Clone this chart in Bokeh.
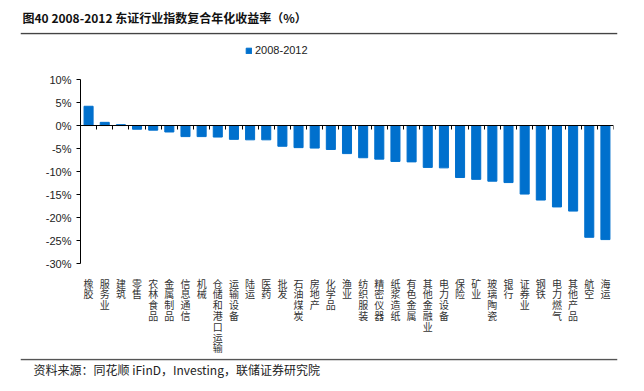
from bokeh.plotting import figure
from bokeh.models import FixedTicker, LinearAxis, Legend, LegendItem, Range1d, BoxAnnotation, Label
from bokeh.layouts import column
from bokeh.embed import file_html
from bokeh.resources import INLINE

categories = ["橡胶", "服务业", "建筑", "零售", "农林食品", "金属制品", "信息通信", "机械",
              "仓储和港口运输", "运输设备", "陆运", "医药", "批发", "石油煤炭", "房地产", "化学品",
              "渔业", "纺织服装", "精密仪器", "纸浆造纸", "有色金属", "其他金融业", "电力设备",
              "保险", "矿业", "玻璃陶瓷", "银行", "证券业", "钢铁", "电力燃气", "其他产品",
              "航空", "海运"]
values = [4.2, 0.7, 0.2, -0.8, -1.0, -1.4, -2.4, -2.4, -2.5, -3.0, -3.1, -3.1, -4.5, -4.8,
          -4.9, -5.2, -6.1, -7.0, -7.3, -7.8, -7.9, -9.1, -9.2, -11.3, -11.7, -12.1, -12.4,
          -14.9, -16.2, -17.7, -18.6, -24.3, -24.8]
series_name = "2008-2012"
y_ticks = [-30, -25, -20, -15, -10, -5, 0, 5, 10]
y_labels = ["-30%", "-25%", "-20%", "-15%", "-10%", "-5%", "0%", "5%", "10%"]
title_text = "图40 2008-2012 东证行业指数复合年化收益率（%）"
source_text = "资料来源：同花顺 iFinD，Investing，联储证券研究院"

n = len(categories)
idx = list(range(n))


def strip(h):
    f = figure(output_backend="svg", toolbar_location=None, title=None,
               frame_width=597, frame_height=h, frame_align=False,
               x_range=Range1d(0, 597), y_range=Range1d(0, h),
               x_axis_location=None, y_axis_location=None,
               min_border_left=20, min_border_right=27, min_border_top=0, min_border_bottom=0)
    f.grid.visible = False
    f.outline_line_color = None
    return f


# title strip (page y 0..30)
tf = strip(30)
tf.add_layout(Label(x=2, y=13, text=title_text, text_baseline="middle",
                    text_font="Noto Sans CJK SC", text_font_style="bold",
                    text_font_size="12px", text_color="#111111"))

# rule strip (page y 30..40) with the rule at its top
rf = strip(10)
rf.add_layout(BoxAnnotation(bottom=8.25, top=9.75, fill_color="#444444", fill_alpha=1,
                            line_color=None))

# main chart (frame page x 80..613, y 40..263)
p = figure(output_backend="svg", toolbar_location=None, title=None, frame_align=False,
           frame_width=533, frame_height=223,
           x_range=Range1d(-0.5, n - 0.5), y_range=Range1d(-30, 18.5),
           min_border_left=80, min_border_right=31, min_border_top=0, min_border_bottom=89)
p.outline_line_color = None
p.xgrid.visible = False
p.ygrid.visible = False

r = p.vbar(x=idx, top=values, width=0.56, color="#0070CD")

ya = p.yaxis[0]
ya.bounds = (-30, 10)
ya.ticker = FixedTicker(ticks=y_ticks)
ya.major_label_overrides = {t: l for t, l in zip(y_ticks, y_labels)}
ya.major_tick_out = 4
ya.major_tick_in = 0
ya.minor_tick_line_color = None
ya.axis_line_color = "#000000"
ya.major_tick_line_color = "#000000"
ya.major_label_text_font = "Liberation Sans"
ya.major_label_text_font_size = "11px"
ya.major_label_text_color = "#222222"
ya.major_label_standoff = 5

xa = p.xaxis[0]
xa.ticker = FixedTicker(ticks=idx)
xa.major_label_overrides = {i: "\n".join(c) for i, c in zip(idx, categories)}
xa.axis_line_color = None
xa.major_tick_line_color = None
xa.minor_tick_line_color = None
xa.major_label_text_font = "Noto Sans CJK SC"
xa.major_label_text_font_size = "10px"
xa.major_label_text_line_height = 0.72
xa.major_label_text_color = "#333333"
xa.major_label_standoff = 6

za = LinearAxis(fixed_location=0, ticker=FixedTicker(ticks=[i + 0.5 for i in idx]))
za.major_label_text_font_size = "0px"
za.major_tick_out = 4
za.major_tick_in = 0
za.minor_tick_line_color = None
za.axis_line_color = "#000000"
za.major_tick_line_color = "#000000"
p.add_layout(za, "below")

legend = Legend(items=[LegendItem(label=series_name, renderers=[r])],
                location=(165, 207), orientation="horizontal",
                glyph_width=7, glyph_height=7, label_height=12, label_standoff=3,
                label_text_font="Liberation Sans", label_text_font_size="11px",
                label_text_color="#222222", padding=0, margin=0,
                border_line_color=None, background_fill_alpha=0)
p.add_layout(legend)

# source strip, rule at its top
sf = strip(24)
sf.add_layout(BoxAnnotation(bottom=22.25, top=23.75, fill_color="#555555", fill_alpha=1,
                            line_color=None))
sf.add_layout(Label(x=13, y=13, text=source_text, text_baseline="middle",
                    text_font="Noto Sans CJK SC", text_font_size="12px",
                    text_color="#222222"))

layout = column(tf, rf, p, sf, spacing=0)

open("out.html", "w").write(file_html(layout, INLINE))
